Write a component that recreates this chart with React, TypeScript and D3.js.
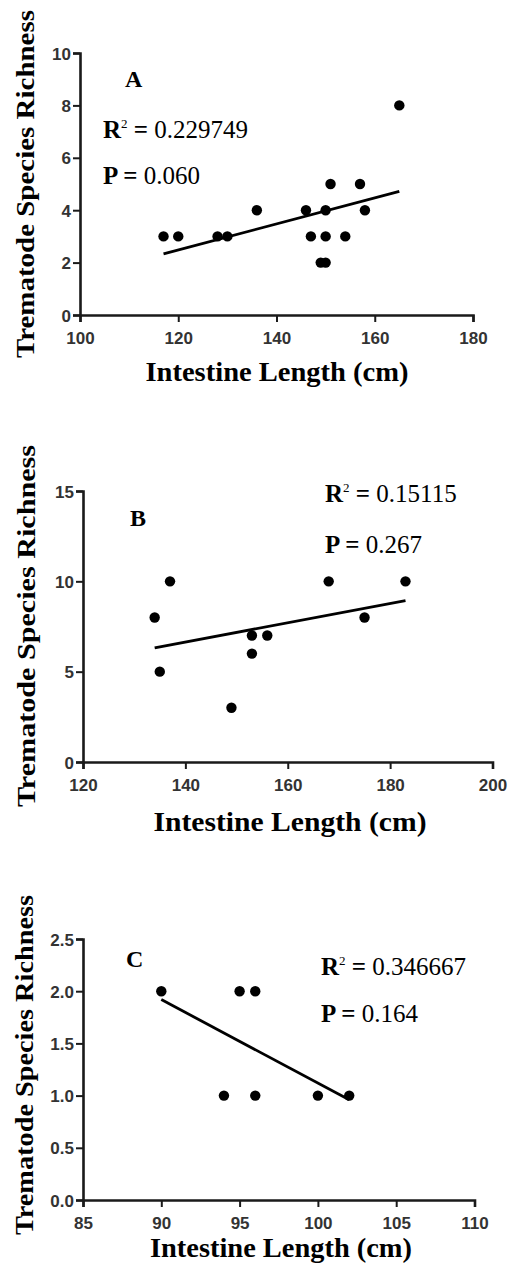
import * as d3 from "d3";
import React, { useRef, useEffect } from "react";

const W = 514;
const H = 1275;

// values
const lengthA = [117, 120, 128, 130, 136, 146, 147, 149, 150, 150, 150, 151, 154, 157, 158, 165];
const richnessA = [3, 3, 3, 3, 4, 4, 3, 2, 2, 4, 3, 5, 3, 5, 4, 8];
const lengthB = [134, 135, 137, 149, 153, 153, 156, 168, 175, 183];
const richnessB = [8, 5, 10, 3, 7, 6, 7, 10, 8, 10];
const lengthC = [90, 95, 96, 94, 96, 100, 102];
const richnessC = [2, 2, 2, 1, 1, 1, 1];

const xTicksA = [100, 120, 140, 160, 180];
const yTicksA = [0, 2, 4, 6, 8, 10];
const xTicksB = [120, 140, 160, 180, 200];
const yTicksB = [0, 5, 10, 15];
const xTicksC = [85, 90, 95, 100, 105, 110];
const yTicksC = [0, 0.5, 1, 1.5, 2, 2.5];

const letters = ["A", "B", "C"];
const r2Labels = ["0.229749", "0.15115", "0.346667"];
const pLabels = ["0.060", "0.267", "0.164"];

const xTitle = "Intestine Length (cm)";
const yTitle = "Trematode Species Richness";

// layout of each panel in the page
const panels = [
  {
    xs: lengthA, ys: richnessA, xTicks: xTicksA, yTicks: yTicksA, fmt: d3.format("d"),
    xRange: [80, 473], yRange: [315, 53],
    letter: [125, 87], stats: [103, 138, 184],
    yt: { x: 34, cy: 184, len: 348 }, xt: { cx: 277, y: 381, len: 263 },
  },
  {
    xs: lengthB, ys: richnessB, xTicks: xTicksB, yTicks: yTicksB, fmt: d3.format("d"),
    xRange: [83, 492.5], yRange: [762, 491],
    letter: [130, 526], stats: [325, 502, 553],
    yt: { x: 35, cy: 626, len: 362 }, xt: { cx: 290, y: 831, len: 273 },
  },
  {
    xs: lengthC, ys: richnessC, xTicks: xTicksC, yTicks: yTicksC, fmt: d3.format(".1f"),
    xRange: [83, 474.5], yRange: [1200, 939],
    letter: [126, 967], stats: [321, 975, 1022],
    yt: { x: 33, cy: 1065, len: 340 }, xt: { cx: 281, y: 1257, len: 262 },
  },
];

const serif = "'Liberation Serif', 'Times New Roman', serif";
const sans = "'Liberation Sans', Arial, sans-serif";

function fit(xs, ys) {
  const mx = d3.mean(xs);
  const my = d3.mean(ys);
  const sxy = d3.sum(xs, (x, i) => (x - mx) * (ys[i] - my));
  const sxx = d3.sum(xs, (x) => (x - mx) ** 2);
  const b = sxy / sxx;
  return (x) => my + b * (x - mx);
}

export default function App() {
  const ref = useRef(null);

  useEffect(() => {
    const svg = d3.select(ref.current);
    svg.selectAll("*").remove();
    svg.append("rect").attr("width", W).attr("height", H).attr("fill", "#fff");

    panels.forEach((p, i) => {
      const g = svg.append("g");
      const xScale = d3.scaleLinear().domain(d3.extent(p.xTicks)).range(p.xRange);
      const yScale = d3.scaleLinear().domain(d3.extent(p.yTicks)).range(p.yRange);

      // x axis
      const xAxis = g
        .append("g")
        .attr("transform", `translate(0,${p.yRange[0]})`)
        .call(d3.axisBottom(xScale).tickValues(p.xTicks).tickSize(7).tickPadding(10));
      // y axis
      const yAxis = g
        .append("g")
        .attr("transform", `translate(${p.xRange[0]},0)`)
        .call(d3.axisLeft(yScale).tickValues(p.yTicks).tickFormat(p.fmt).tickSize(7).tickPadding(2));

      [xAxis, yAxis].forEach((ax) => {
        ax.select(".domain").attr("stroke", "#1a1a1a").attr("stroke-width", 2.6);
        ax.selectAll(".tick line").attr("stroke", "#1a1a1a").attr("stroke-width", 2);
        ax.selectAll("text")
          .attr("font-family", sans)
          .attr("font-weight", "bold")
          .attr("font-size", 17)
          .attr("fill", "#333");
      });
      yAxis.selectAll("text").attr("dy", "0.36em");

      // regression line over the data range
      const f = fit(p.xs, p.ys);
      const [x0, x1] = d3.extent(p.xs);
      g.append("path")
        .attr("d", d3.line()([[xScale(x0), yScale(f(x0))], [xScale(x1), yScale(f(x1))]]))
        .attr("stroke", "#000")
        .attr("stroke-width", 2.8)
        .attr("fill", "none");

      g.append("g")
        .selectAll("circle")
        .data(p.xs)
        .join("circle")
        .attr("cx", (d) => xScale(d))
        .attr("cy", (d, j) => yScale(p.ys[j]))
        .attr("r", 5.2)
        .attr("fill", "#000");

      // panel letter
      g.append("text")
        .attr("x", p.letter[0])
        .attr("y", p.letter[1])
        .attr("font-family", serif)
        .attr("font-weight", "bold")
        .attr("font-size", 24)
        .text(letters[i]);

      // R² and P
      const r2 = g
        .append("text")
        .attr("x", p.stats[0])
        .attr("y", p.stats[1])
        .attr("font-family", serif)
        .attr("font-size", 25);
      r2.append("tspan").attr("font-weight", "bold").text("R");
      r2.append("tspan").attr("font-size", 13).attr("dy", -10).text("2");
      r2.append("tspan").attr("font-weight", "bold").attr("dy", 10).text(" = ");
      r2.append("tspan").text(r2Labels[i]);

      const pt = g
        .append("text")
        .attr("x", p.stats[0])
        .attr("y", p.stats[2])
        .attr("font-family", serif)
        .attr("font-size", 25);
      pt.append("tspan").attr("font-weight", "bold").text("P = ");
      pt.append("tspan").text(pLabels[i]);

      // axis titles
      g.append("text")
        .attr("transform", `translate(${p.yt.x},${p.yt.cy}) rotate(-90)`)
        .attr("text-anchor", "middle")
        .attr("font-family", serif)
        .attr("font-weight", "bold")
        .attr("font-size", 26)
        .attr("textLength", p.yt.len)
        .attr("lengthAdjust", "spacingAndGlyphs")
        .text(yTitle);

      g.append("text")
        .attr("x", p.xt.cx)
        .attr("y", p.xt.y)
        .attr("text-anchor", "middle")
        .attr("font-family", serif)
        .attr("font-weight", "bold")
        .attr("font-size", 27)
        .attr("textLength", p.xt.len)
        .attr("lengthAdjust", "spacingAndGlyphs")
        .text(xTitle);
    });
  }, []);

  return (
    <div style={{ position: "absolute", left: 0, top: 0 }}>
      <svg ref={ref} width={W} height={H} style={{ display: "block" }}></svg>
    </div>
  );
}
